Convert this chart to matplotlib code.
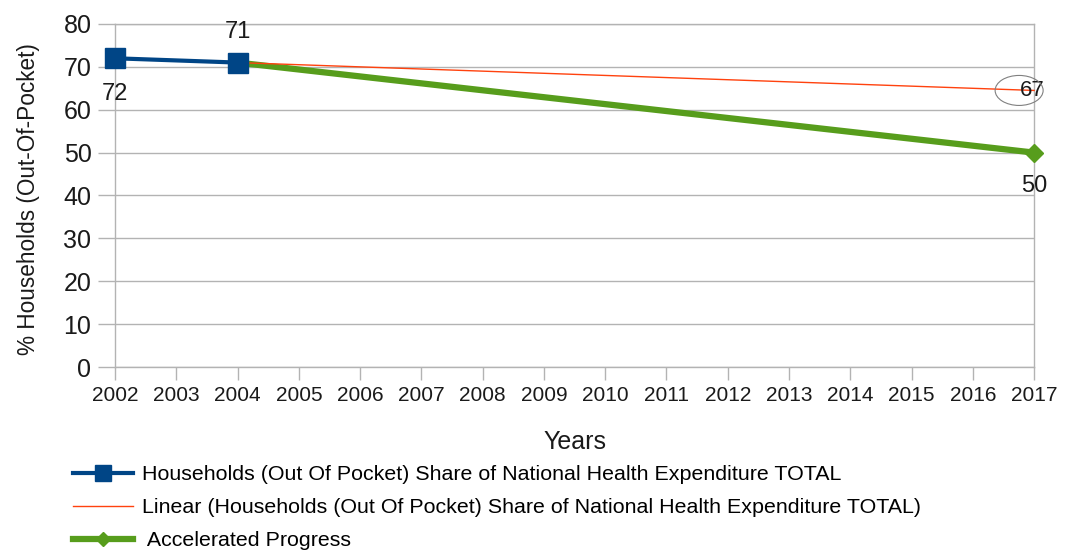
import matplotlib.pyplot as plt
import numpy as np
from matplotlib.patches import Ellipse
from matplotlib.transforms import ScaledTranslation

plt.rcParams['font.family'] = ['Liberation Sans', 'DejaVu Sans']

years = [str(y) for y in range(2002, 2018)]

# Observed series (index into years)
hh_idx = [0, 2]
hh_vals = [72, 71]

# Accelerated progress target path
acc_idx = [2, 15]
acc_vals = [71, 50]

trend_label = 67

BLUE = '#004586'
ORANGE = '#ff420e'
GREEN = '#579d1c'
GRID = '#b3b3b3'
TXT = '#1a1a1a'

fig = plt.figure(figsize=(10.66, 5.5), dpi=100)
ax = fig.add_axes([0.1079, 0.3327, 0.8622, 0.6237])

# Linear trend fitted over the observed points, drawn across all years
coef = np.polyfit(hh_idx, hh_vals, 1)
x_all = np.arange(len(years))
trend = np.polyval(coef, x_all)

ax.plot(acc_idx, acc_vals, color=GREEN, linewidth=4.5, marker='D',
        markersize=9.5, zorder=3, clip_on=False,
        label=' Accelerated Progress')
ax.plot(x_all, trend, color=ORANGE, linewidth=1, zorder=4, clip_on=False,
        label='Linear (Households (Out Of Pocket) Share of National Health Expenditure TOTAL)')
ax.plot(hh_idx, hh_vals, color=BLUE, linewidth=3, marker='s',
        markersize=14.5, zorder=5, clip_on=False,
        label='Households (Out Of Pocket) Share of National Health Expenditure TOTAL')

# Data labels
ax.annotate(str(hh_vals[0]), (hh_idx[0], hh_vals[0]), xytext=(0, -26),
            textcoords='offset points', ha='center', va='center', fontsize=17,
            color=TXT)
ax.annotate(str(hh_vals[1]), (hh_idx[1], hh_vals[1]), xytext=(0, 22),
            textcoords='offset points', ha='center', va='center', fontsize=17,
            color=TXT)
ax.annotate(str(acc_vals[1]), (acc_idx[1], acc_vals[1]), xytext=(0, -24),
            textcoords='offset points', ha='center', va='center', fontsize=17,
            color=TXT)
ax.annotate(str(trend_label), (x_all[-1], trend[-1]), xytext=(-1.5, 0),
            textcoords='offset points', ha='center', va='center', fontsize=16,
            color=TXT, zorder=6)
ell_tr = fig.dpi_scale_trans + ScaledTranslation(x_all[-1], trend[-1], ax.transData)
ax.add_patch(Ellipse((-0.15, 0), 0.48, 0.30, transform=ell_tr, fc='none',
                     ec='#808080', lw=0.8, clip_on=False, zorder=6))

ax.set_xlim(0, len(years) - 1)
ax.set_ylim(0, 80)
ax.set_xticks(x_all)
ax.set_xticklabels(years)
ax.set_yticks(np.arange(0, 81, 10))

ax.grid(axis='y', color=GRID, linewidth=1)
ax.set_axisbelow(True)
for s in ax.spines.values():
    s.set_color(GRID)
    s.set_linewidth(1)

ax.tick_params(axis='x', colors=GRID, length=9, width=1, labelsize=15,
               labelcolor=TXT, pad=5)
ax.tick_params(axis='y', colors=GRID, length=12, width=1, labelsize=18,
               labelcolor=TXT, pad=5)

ax.set_xlabel('Years', fontsize=18, color=TXT, labelpad=18)
ax.set_ylabel('% Households (Out-Of-Pocket)', fontsize=16.3, color=TXT)
ax.yaxis.set_label_coords(-0.0815, 0.49)

handles, labels = ax.get_legend_handles_labels()
order = [2, 1, 0]
fig.legend([handles[i] for i in order], [labels[i] for i in order],
           loc='upper left', bbox_to_anchor=(0.060, 0.170), frameon=False,
           fontsize=15.4, handlelength=2.85, handletextpad=0.4,
           labelspacing=0.66, borderaxespad=0, markerscale=0.8)

fig.savefig('out.png', dpi=100)
